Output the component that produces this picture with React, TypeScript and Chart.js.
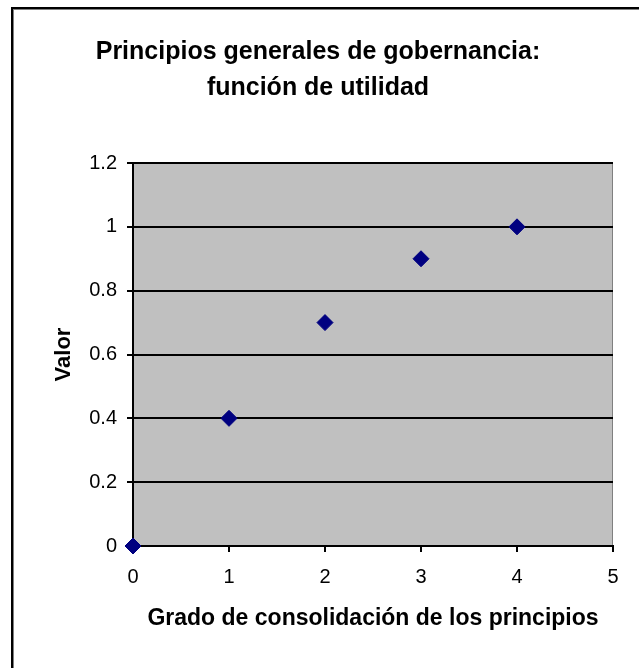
import React, { useEffect, useRef } from "react";
import { Chart, registerables } from "chart.js";

Chart.register(...registerables);

const chartTitle = ["Principios generales de gobernancia:", "función de utilidad"];
const xAxisTitle = "Grado de consolidación de los principios";
const yAxisTitle = "Valor";
const xValues = [0, 1, 2, 3, 4];
const yValues = [0, 0.4, 0.7, 0.9, 1.0];
const xTickLabels = ["0", "1", "2", "3", "4", "5"];
const yTickLabels = ["0", "0.2", "0.4", "0.6", "0.8", "1", "1.2"];

const FONT = "'Liberation Sans', Arial, sans-serif";

const framePlugin = {
  id: "frame",
  beforeDraw(chart: any) {
    const { ctx, chartArea, width, height } = chart;
    ctx.save();
    // outer border (left + top)
    ctx.fillStyle = "#000";
    ctx.fillRect(11, 7, width - 11, 2);
    ctx.fillRect(11, 7, 2, height - 7);
    ctx.fillStyle = "#808080";
    ctx.fillRect(13, 9, width - 13, 1);
    ctx.fillRect(13, 9, 1, height - 9);
    // plot background
    ctx.fillStyle = "#C0C0C0";
    ctx.fillRect(chartArea.left, chartArea.top, chartArea.right - chartArea.left, chartArea.bottom - chartArea.top);
    ctx.fillStyle = "#808080";
    ctx.fillRect(chartArea.right - 1, chartArea.top, 1, chartArea.bottom - chartArea.top);
    ctx.restore();
  },
};

export default function App() {
  const ref = useRef<HTMLCanvasElement | null>(null);

  useEffect(() => {
    if (!ref.current) return;
    const chart = new Chart(ref.current, {
      type: "scatter",
      data: {
        datasets: [
          {
            data: xValues.map((x, i) => ({ x, y: yValues[i] })),
            backgroundColor: "#000080",
            borderColor: "#000080",
            borderWidth: 1,
            pointStyle: "rectRot",
            pointRadius: 8,
            pointHoverRadius: 8,
            showLine: false,
            clip: false,
          } as any,
        ],
      },
      options: {
        responsive: false,
        animation: false,
        devicePixelRatio: 1,
        layout: { padding: { left: 23, right: 26, top: 0, bottom: 0 } },
        plugins: {
          legend: { display: false },
          tooltip: { enabled: false },
          title: {
            display: true,
            text: chartTitle,
            color: "#000",
            font: { family: FONT, size: 25, weight: "bold", lineHeight: 1.44 },
            padding: { top: 34, bottom: 57 },
          },
        },
        scales: {
          x: {
            type: "linear",
            min: 0,
            max: 5,
            afterFit: (scale: any) => {
              scale.height = 122;
            },
            ticks: {
              stepSize: 1,
              color: "#000",
              padding: 13,
              font: { family: FONT, size: 20 },
              callback: (_v: any, i: number) => xTickLabels[i],
            },
            grid: {
              drawOnChartArea: false,
              drawTicks: true,
              tickLength: 6,
              color: "#000",
              lineWidth: 2,
            },
            border: { display: true, color: "#000", width: 2 },
            title: {
              display: true,
              text: xAxisTitle,
              color: "#000",
              font: { family: FONT, size: 23, weight: "bold" },
              padding: { top: 0, bottom: 36 },
            },
          },
          y: {
            type: "linear",
            min: 0,
            max: 1.2,
            afterFit: (scale: any) => {
              scale.width = 110;
            },
            ticks: {
              stepSize: 0.2,
              color: "#000",
              padding: 10,
              font: { family: FONT, size: 20 },
              callback: (_v: any, i: number) => yTickLabels[i],
            },
            grid: {
              drawOnChartArea: true,
              drawTicks: true,
              tickLength: 6,
              color: "#000",
              lineWidth: 2,
            },
            border: { display: true, color: "#000", width: 2 },
            title: {
              display: true,
              text: yAxisTitle,
              color: "#000",
              font: { family: FONT, size: 22, weight: "bold" },
              padding: { top: 28, bottom: 0 },
            },
          },
        },
      },
      plugins: [framePlugin],
    });
    return () => chart.destroy();
  }, []);

  return (
    <div style={{ position: "absolute", left: 0, top: 0, width: 639, height: 668, background: "#fff" }}>
      <canvas ref={ref} width={639} height={668} style={{ display: "block" }} />
    </div>
  );
}
